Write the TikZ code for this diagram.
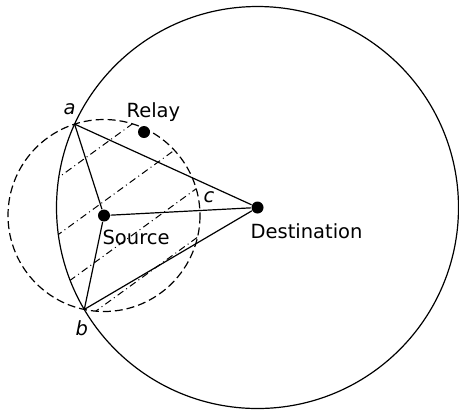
\documentclass[tikz,border=0pt]{standalone}
\usepackage{fontspec}
\setmainfont{DejaVu Sans}[ItalicFont={DejaVu Sans Oblique}]
\usepackage{tikz}
\usetikzlibrary{positioning, calc}

\begin{document}
\begin{tikzpicture}[x=0.5pt, y=-0.5pt,
  line width=0.6pt,
  every node/.style={font=\fontsize{9.75}{11}\selectfont, inner sep=0pt},
  dot/.style={circle, fill=black, minimum size=6pt},
  lbl/.style={anchor=base west},
  hatch/.style={line width=0.5pt, dash pattern=on 3.5pt off 1.8pt on 0.5pt off 1.8pt},
  cover/.style={dash pattern=on 4pt off 2pt}]
  \useasboundingbox (0,0) rectangle (459,414);
  % terminals
  \node[dot] (src)   at (104,215.5) {};
  \node[dot] (dst)   at (257.5,207.5) {};
  \node[dot] (relay) at (144,132) {};
  % crossing points of the two ranges
  \coordinate (a) at (74.6,124.1);
  \coordinate (b) at (84.3,309.4);
  % ranges
  \draw (dst.center) circle (201);
  \draw[cover] (src.center) circle (96);
  % hatched lens
  \begin{scope}
    \clip (src.center) circle (96);
    \clip (dst.center) circle (201);
    \foreach \k in {178,224,268,308}
      \draw[hatch] ({\k*sin(36)},{\k*cos(36)}) ++(-36:-200) -- ++(-36:400);
  \end{scope}
  % links
  \draw (a) -- (src);
  \draw (b) -- (src);
  \draw (a) -- (dst);
  \draw (b) -- (dst);
  \draw (src) -- (dst);
  % labels
  \node[lbl] (la) at (63,114)   {\textit{a}};
  \node[lbl] (lb) at (75,335)   {\textit{b}};
  \node[lbl] (lc) at (203,202)  {\textit{c}};
  \node[lbl] (lrelay) at (126,117) {Relay};
  \node[lbl] (lsrc)   at (102,244) {Source};
  \node[lbl] (ldst)   at (250,238.3) {Destination};
\end{tikzpicture}
\end{document}
